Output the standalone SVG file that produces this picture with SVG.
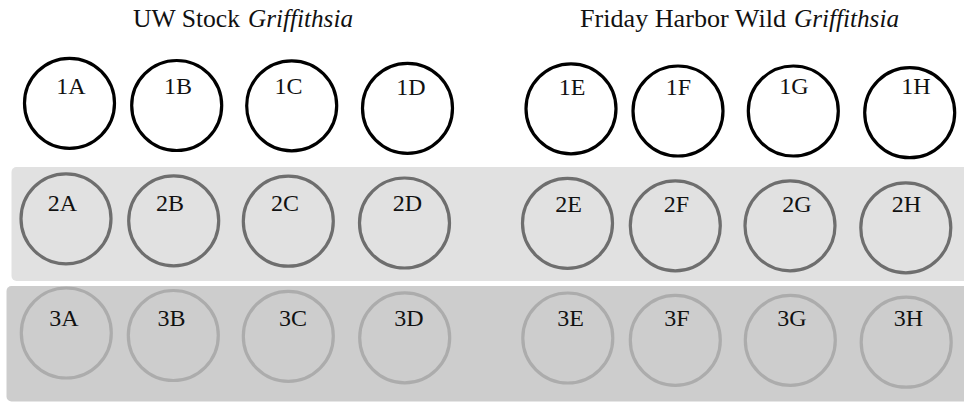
<svg xmlns="http://www.w3.org/2000/svg" width="964" height="402" viewBox="0 0 964 402">
<style>
text{font-family:"Liberation Serif","Times New Roman",serif;fill:#111;}
.t{font-size:26px;}
.i{font-style:italic;}
.l{font-size:24px;text-anchor:middle;}
.r1{fill:none;stroke:#000;stroke-width:3.2;}
.r2{fill:none;stroke:#6e6e6e;stroke-width:3.2;}
.r3{fill:none;stroke:#acacac;stroke-width:3.2;}
</style>
<rect x="0" y="0" width="964" height="402" fill="#fff"/>
<rect id="band2" x="11.5" y="167" width="962" height="114" rx="5" fill="#e1e1e1"/>
<rect id="band3" x="6.5" y="286" width="967" height="115.5" rx="5" fill="#cdcdcd"/>
<g id="titles">
<text class="t" x="133" y="27" textLength="107" lengthAdjust="spacingAndGlyphs">UW Stock</text>
<text class="t i" x="248" y="27" textLength="105" lengthAdjust="spacingAndGlyphs">Griffithsia</text>
<text class="t" x="580" y="27" textLength="206" lengthAdjust="spacingAndGlyphs">Friday Harbor Wild</text>
<text class="t i" x="794" y="27" textLength="105" lengthAdjust="spacingAndGlyphs">Griffithsia</text>
</g>
<g id="connectors"/>
<g id="n1A"><circle class="r1" cx="69.5" cy="103.3" r="45"/><text class="l" x="71" y="94">1A</text></g>
<g id="n1B"><circle class="r1" cx="176.7" cy="105.5" r="45"/><text class="l" x="178" y="94">1B</text></g>
<g id="n1C"><circle class="r1" cx="291.7" cy="105.8" r="45"/><text class="l" x="288.5" y="94">1C</text></g>
<g id="n1D"><circle class="r1" cx="407.5" cy="108.3" r="45"/><text class="l" x="411" y="95">1D</text></g>
<g id="n1E"><circle class="r1" cx="571" cy="108.8" r="45"/><text class="l" x="572" y="94.5">1E</text></g>
<g id="n1F"><circle class="r1" cx="678" cy="111" r="45"/><text class="l" x="678.5" y="94.5">1F</text></g>
<g id="n1G"><circle class="r1" cx="793.3" cy="111" r="45"/><text class="l" x="794" y="94">1G</text></g>
<g id="n1H"><circle class="r1" cx="909.7" cy="112.7" r="45"/><text class="l" x="916" y="94">1H</text></g>
<g id="n2A"><circle class="r2" cx="66" cy="218.8" r="45"/><text class="l" x="62.5" y="211">2A</text></g>
<g id="n2B"><circle class="r2" cx="173.7" cy="220.8" r="45"/><text class="l" x="170" y="211">2B</text></g>
<g id="n2C"><circle class="r2" cx="288.3" cy="221.2" r="45"/><text class="l" x="285" y="211">2C</text></g>
<g id="n2D"><circle class="r2" cx="404.5" cy="223" r="45"/><text class="l" x="407.5" y="211">2D</text></g>
<g id="n2E"><circle class="r2" cx="567.5" cy="223.3" r="45"/><text class="l" x="568.5" y="212">2E</text></g>
<g id="n2F"><circle class="r2" cx="675.3" cy="225.8" r="45"/><text class="l" x="676.5" y="212">2F</text></g>
<g id="n2G"><circle class="r2" cx="790" cy="225.8" r="45"/><text class="l" x="797" y="212">2G</text></g>
<g id="n2H"><circle class="r2" cx="905.8" cy="227.8" r="45"/><text class="l" x="906.5" y="212">2H</text></g>
<g id="n3A"><circle class="r3" cx="66.3" cy="333" r="45"/><text class="l" x="64" y="326">3A</text></g>
<g id="n3B"><circle class="r3" cx="173.3" cy="335.5" r="45"/><text class="l" x="171.5" y="326">3B</text></g>
<g id="n3C"><circle class="r3" cx="288.3" cy="336.3" r="45"/><text class="l" x="293" y="326">3C</text></g>
<g id="n3D"><circle class="r3" cx="404.7" cy="337.8" r="45"/><text class="l" x="409" y="326">3D</text></g>
<g id="n3E"><circle class="r3" cx="567.8" cy="338" r="45"/><text class="l" x="570.5" y="326">3E</text></g>
<g id="n3F"><circle class="r3" cx="675.3" cy="340.3" r="45"/><text class="l" x="677" y="326">3F</text></g>
<g id="n3G"><circle class="r3" cx="790.3" cy="340.3" r="45"/><text class="l" x="792" y="326">3G</text></g>
<g id="n3H"><circle class="r3" cx="906.2" cy="342.2" r="45"/><text class="l" x="908.5" y="326">3H</text></g>
</svg>
